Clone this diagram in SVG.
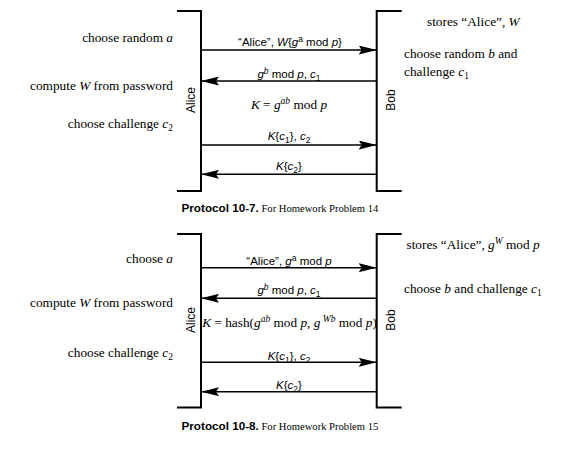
<svg xmlns="http://www.w3.org/2000/svg" width="565" height="470" viewBox="0 0 565 470">
<style>
.serif{font-family:"Liberation Serif","Times New Roman",serif;font-size:13.3px;fill:#000}
.sans{font-family:"Liberation Sans",Arial,sans-serif;font-size:11.5px;fill:#000}
.who{font-family:"Liberation Sans",Arial,sans-serif;font-size:12px;fill:#000}
.capb{font-family:"Liberation Sans",Arial,sans-serif;font-size:11.7px;font-weight:bold;fill:#000}
.caps{font-family:"Liberation Serif","Times New Roman",serif;font-size:10.6px;fill:#000}
.br{fill:none;stroke:#000;stroke-width:2}
.ar{fill:none;stroke:#000;stroke-width:1.6}
.i{font-style:italic}
</style>
<defs>
<marker id="ah" markerWidth="18" markerHeight="9" refX="18" refY="4.5" orient="auto" markerUnits="userSpaceOnUse">
<path d="M0,0 L18,4.5 L0,9 L3,4.5 Z" fill="#000"/>
</marker>
</defs>

<!-- Protocol 10-7 -->
<g id="alice1">
<path class="br" d="M177,11 H201 V191 H177"/>
<text class="who" transform="translate(194.5,100) rotate(-90)" text-anchor="middle">Alice</text>
</g>
<g id="bob1">
<path class="br" d="M401.7,11 H376.7 V191 H401.7"/>
<text class="who" transform="translate(394.5,100) rotate(-90)" text-anchor="middle">Bob</text>
</g>
<g id="alice1-notes" class="serif" text-anchor="end">
<text x="173" y="42">choose random <tspan class="i">a</tspan></text>
<text x="173" y="90">compute <tspan class="i">W</tspan> from password</text>
<text x="173" y="128">choose challenge <tspan class="i">c</tspan><tspan font-size="9.5" dy="3">2</tspan></text>
</g>
<g id="bob1-notes" class="serif">
<text x="427" y="25.5">stores “Alice”, <tspan class="i">W</tspan></text>
<text x="404" y="58">choose random <tspan class="i">b</tspan> and</text>
<text x="404" y="75.5">challenge <tspan class="i">c</tspan><tspan font-size="9.5" dy="3">1</tspan></text>
</g>
<g id="connectors1">
<line class="ar" x1="201" y1="50" x2="376.7" y2="50" marker-end="url(#ah)"/>
<line class="ar" x1="376.7" y1="81" x2="201" y2="81" marker-end="url(#ah)"/>
<line class="ar" x1="201" y1="145" x2="376.7" y2="145" marker-end="url(#ah)"/>
<line class="ar" x1="376.7" y1="174.3" x2="201" y2="174.3" marker-end="url(#ah)"/>
</g>
<g id="labels1" text-anchor="middle">
<text class="sans" x="290" y="45.5">“Alice”, <tspan class="i">W</tspan>{<tspan class="i">g</tspan><tspan font-size="8.5" dy="-4">a</tspan><tspan dy="4"> mod </tspan><tspan class="i">p</tspan>}</text>
<text class="sans" x="289" y="77.5"><tspan class="i">g</tspan><tspan font-size="8.5" dy="-4" class="i">b</tspan><tspan dy="4"> mod </tspan><tspan class="i">p</tspan>, <tspan class="i">c</tspan><tspan font-size="8.5" dy="3">1</tspan></text>
<text class="serif" x="289" y="109"><tspan class="i">K</tspan> = <tspan class="i">g</tspan><tspan font-size="9.5" dy="-5" class="i">ab</tspan><tspan dy="5"> mod </tspan><tspan class="i">p</tspan></text>
<text class="sans" x="289" y="140"><tspan class="i">K</tspan>{<tspan class="i">c</tspan><tspan font-size="8.5" dy="3">1</tspan><tspan dy="-3">}, </tspan><tspan class="i">c</tspan><tspan font-size="8.5" dy="3">2</tspan></text>
<text class="sans" x="289" y="170"><tspan class="i">K</tspan>{<tspan class="i">c</tspan><tspan font-size="8.5" dy="3">2</tspan><tspan dy="-3">}</tspan></text>
</g>
<g id="caption1">
<text x="181.5" y="212"><tspan class="capb">Protocol 10-7.</tspan><tspan class="caps"> For Homework Problem 14</tspan></text>
</g>

<!-- Protocol 10-8 -->
<g id="alice2">
<path class="br" d="M177,234 H201 V407.5 H177"/>
<text class="who" transform="translate(194.5,320) rotate(-90)" text-anchor="middle">Alice</text>
</g>
<g id="bob2">
<path class="br" d="M401.7,234 H376.7 V407.5 H401.7"/>
<text class="who" transform="translate(394.5,320) rotate(-90)" text-anchor="middle">Bob</text>
</g>
<g id="alice2-notes" class="serif" text-anchor="end">
<text x="173" y="262.5">choose <tspan class="i">a</tspan></text>
<text x="173" y="307">compute <tspan class="i">W</tspan> from password</text>
<text x="173" y="356.5">choose challenge <tspan class="i">c</tspan><tspan font-size="9.5" dy="3">2</tspan></text>
</g>
<g id="bob2-notes" class="serif">
<text x="406.5" y="248.5">stores “Alice”, <tspan class="i">g</tspan><tspan font-size="9.5" dy="-5" class="i">W</tspan><tspan dy="5"> mod </tspan><tspan class="i">p</tspan></text>
<text x="404" y="292.5">choose <tspan class="i">b</tspan> and challenge <tspan class="i">c</tspan><tspan font-size="9.5" dy="3">1</tspan></text>
</g>
<g id="connectors2">
<line class="ar" x1="201" y1="267.7" x2="376.7" y2="267.7" marker-end="url(#ah)"/>
<line class="ar" x1="376.7" y1="298.3" x2="201" y2="298.3" marker-end="url(#ah)"/>
<line class="ar" x1="201" y1="362.3" x2="376.7" y2="362.3" marker-end="url(#ah)"/>
<line class="ar" x1="376.7" y1="391.7" x2="201" y2="391.7" marker-end="url(#ah)"/>
</g>
<g id="labels2" text-anchor="middle">
<text class="sans" x="289" y="265"><tspan>“Alice”, </tspan><tspan class="i">g</tspan><tspan font-size="8.5" dy="-4">a</tspan><tspan dy="4"> mod </tspan><tspan class="i">p</tspan></text>
<text class="sans" x="289" y="293.5"><tspan class="i">g</tspan><tspan font-size="8.5" dy="-4" class="i">b</tspan><tspan dy="4"> mod </tspan><tspan class="i">p</tspan>, <tspan class="i">c</tspan><tspan font-size="8.5" dy="3">1</tspan></text>
<text class="serif" x="289.5" y="327" font-size="13"><tspan class="i">K</tspan> = hash(<tspan class="i">g</tspan><tspan font-size="9.5" dy="-5" class="i">ab</tspan><tspan dy="5"> mod </tspan><tspan class="i">p</tspan>, <tspan class="i">g</tspan><tspan font-size="9.5" dy="-5" class="i"> Wb</tspan><tspan dy="5"> mod </tspan><tspan class="i">p</tspan>)</text>
<text class="sans" x="289" y="359.5"><tspan class="i">K</tspan>{<tspan class="i">c</tspan><tspan font-size="8.5" dy="3">1</tspan><tspan dy="-3">}, </tspan><tspan class="i">c</tspan><tspan font-size="8.5" dy="3">2</tspan></text>
<text class="sans" x="289" y="388.5"><tspan class="i">K</tspan>{<tspan class="i">c</tspan><tspan font-size="8.5" dy="3">2</tspan><tspan dy="-3">}</tspan></text>
</g>
<g id="caption2">
<text x="181.5" y="430"><tspan class="capb">Protocol 10-8.</tspan><tspan class="caps"> For Homework Problem 15</tspan></text>
</g>
</svg>
